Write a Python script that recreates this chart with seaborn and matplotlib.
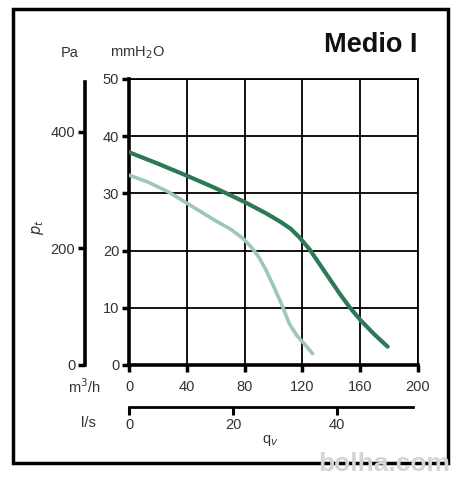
import numpy as np
import pandas as pd
import matplotlib
matplotlib.use("Agg")
import matplotlib.pyplot as plt
import seaborn as sns
from matplotlib.patches import Rectangle

# ---- data ----
qv_dark = [0, 20, 40, 60, 80, 95, 105, 112, 118, 125, 132, 139, 146, 153, 160, 170, 179]
p_dark = [37.2, 35.2, 33.1, 30.9, 28.5, 26.5, 25.0, 23.8, 22.3, 20.2, 17.6, 15.0, 12.4, 10.0, 7.9, 5.3, 3.2]
qv_light = [0, 13, 27, 40, 60, 70, 79, 85, 90, 95, 100, 106, 111, 116, 122, 127]
p_light = [33.2, 32.0, 30.3, 28.3, 25.2, 23.8, 22.1, 20.5, 18.8, 16.5, 13.8, 10.4, 7.2, 5.2, 3.5, 2.0]

x_ticks_m3h = [0, 40, 80, 120, 160, 200]
y_ticks_mm = [0, 10, 20, 30, 40, 50]
y_ticks_pa = [0, 200, 400]
x_ticks_ls = [0, 20, 40]
title = "Medio I"

sns.set_theme(style="white")
plt.rcParams["font.family"] = ["Liberation Sans", "DejaVu Sans"]

W, H = 458, 480
fig = plt.figure(figsize=(W / 100, H / 100), dpi=100)
fig.patch.set_facecolor("white")

def fx(px):
    return px / W

def fy(py):
    return 1 - py / H

left, right, top, bottom = 129, 418, 79, 365
ax = fig.add_axes([fx(left), fy(bottom), (right - left) / W, (bottom - top) / H])
ax.set_facecolor("none")

df = pd.concat([
    pd.DataFrame({"qv": qv_dark, "p": p_dark, "curve": "dark"}),
    pd.DataFrame({"qv": qv_light, "p": p_light, "curve": "light"}),
])
sns.lineplot(data=df[df.curve == "light"], x="qv", y="p", ax=ax, color="#9dc8b6",
             lw=2.6, sort=False, estimator=None, legend=False, zorder=3)
sns.lineplot(data=df[df.curve == "dark"], x="qv", y="p", ax=ax, color="#2c7a55",
             lw=3.0, sort=False, estimator=None, legend=False, zorder=4)
for ln in ax.lines:
    ln.set_solid_capstyle("round")
    ln.set_solid_joinstyle("round")

ax.set_xlim(0, 200)
ax.set_ylim(0, 50)
ax.set_xticks(x_ticks_m3h)
ax.set_yticks(y_ticks_mm)
ax.set_xticklabels([str(v) for v in x_ticks_m3h])
ax.set_yticklabels([str(v) for v in y_ticks_mm])
ax.grid(True, color="black", lw=1.3)
ax.set_axisbelow(True)
ax.set_xlabel("")
ax.set_ylabel("")
for s in ["top", "right"]:
    ax.spines[s].set_color("black")
    ax.spines[s].set_linewidth(1.3)
for s in ["left", "bottom"]:
    ax.spines[s].set_color("black")
    ax.spines[s].set_linewidth(2.6)
ax.tick_params(axis="both", which="both", direction="out", length=5, width=2.5,
               color="black", labelsize=10.5, labelcolor="#333333")
ax.tick_params(axis="x", pad=6)
ax.tick_params(axis="y", pad=2)
ax.xaxis.set_ticks_position("bottom")
ax.yaxis.set_ticks_position("left")

# Pa axis
ax2 = ax.twinx()
ax2.set_ylim(0, 50 * 9.80665)
ax2.yaxis.set_ticks_position("left")
ax2.yaxis.set_label_position("left")
for s in ["top", "right", "bottom"]:
    ax2.spines[s].set_visible(False)
ax2.spines["left"].set_position(("outward", 44 * 0.72))
ax2.spines["left"].set_linewidth(2.6)
ax2.spines["left"].set_color("black")
ax2.spines["left"].set_bounds(0, 486)
ax2.set_yticks(y_ticks_pa)
ax2.set_yticklabels([str(v) for v in y_ticks_pa])
ax2.tick_params(axis="y", direction="out", length=5, width=2.5, color="black",
                labelsize=10.5, labelcolor="#333333", pad=2)
ax2.grid(False)
ax2.set_facecolor("none")

# l/s axis
ax3 = ax.twiny()
ax3.set_xlim(0, 200 / 3.6)
ax3.xaxis.set_ticks_position("bottom")
ax3.xaxis.set_label_position("bottom")
for s in ["top", "right", "left"]:
    ax3.spines[s].set_visible(False)
ax3.spines["bottom"].set_position(("outward", 42 * 0.72))
ax3.spines["bottom"].set_linewidth(2.0)
ax3.spines["bottom"].set_color("black")
ax3.spines["bottom"].set_bounds(0, 54.5)
ax3.set_xticks(x_ticks_ls)
ax3.set_xticklabels([str(v) for v in x_ticks_ls])
ax3.tick_params(axis="x", direction="out", length=6, width=2.2, color="black",
                labelsize=10.5, labelcolor="#333333", pad=2)
ax3.grid(False)
ax3.set_facecolor("none")

# outer frame
fig.patches.append(Rectangle((fx(13), fy(463)), (448 - 13) / W, (463 - 9) / H,
                             transform=fig.transFigure, fill=False,
                             edgecolor="black", lw=2.5, zorder=10))

txt = dict(color="#333333", fontsize=10.5, ha="center", va="center")
fig.text(fx(70), fy(53), "Pa", **txt)
fig.text(fx(137), fy(53), "mmH$_2$O", **txt)
fig.text(fx(38), fy(227), "$p_t$", rotation=90, **txt)
fig.text(fx(84), fy(387), "m$^3$/h", **txt)
fig.text(fx(88), fy(423), "l/s", **txt)
fig.text(fx(270), fy(440), "q$_v$", **txt)
fig.text(fx(418), fy(45), title, fontsize=19.5, fontweight="bold", color="#111111",
         ha="right", va="center")
fig.text(fx(384), fy(464), "bolha.com", fontsize=19, fontweight="bold",
         color="#d4d4d4", ha="center", va="center", zorder=11)

fig.savefig("out.png", dpi=100, facecolor="white")
